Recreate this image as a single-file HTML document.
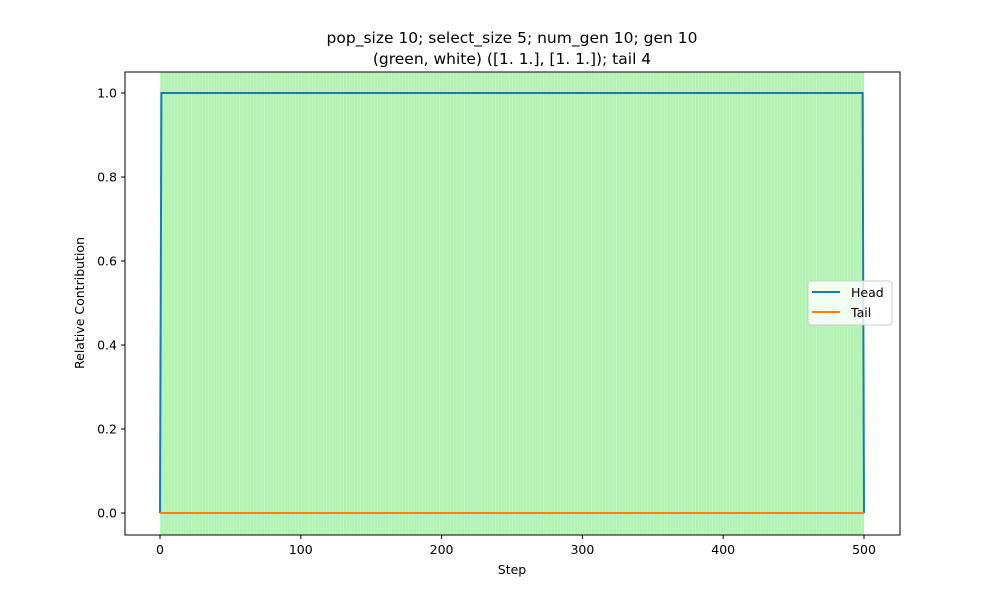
<!DOCTYPE html>
<html><head><meta charset="utf-8"><style>
body{margin:0;background:#fff}
svg{font-family:"DejaVu Sans","Liberation Sans",sans-serif}
</style></head><body>
<svg id="chart" width="1000" height="600">
<rect width="1000" height="600" fill="#fff"/>
<g id="bands"></g>
<g id="lines"></g>
<rect x="125" y="72" width="775" height="463" fill="none" stroke="#000" stroke-width="1"/>
<g id="ticks" font-size="12.5"></g>
<text x="512" y="43" text-anchor="middle" font-size="15.5">pop_size 10; select_size 5; num_gen 10; gen 10</text>
<text x="512" y="64" text-anchor="middle" font-size="15.5">(green, white) ([1. 1.], [1. 1.]); tail 4</text>
<text x="512" y="574" text-anchor="middle" font-size="12.5">Step</text>
<text transform="translate(84,303) rotate(-90)" text-anchor="middle" font-size="12.5">Relative Contribution</text>
<g>
<rect x="808" y="281" width="84" height="44" rx="3" fill="#fff" fill-opacity="0.8" stroke="#ccc"/>
<line x1="812" y1="292" x2="840" y2="292" stroke="#1f77b4" stroke-width="2"/>
<text x="851" y="297" font-size="12.5">Head</text>
<line x1="812" y1="312" x2="840" y2="312" stroke="#ff7f0e" stroke-width="2"/>
<text x="851" y="317" font-size="12.5">Tail</text>
</g>
</svg>
<script>
const steps=[0,1,499,500];
const headValues=[0,1,1,0];
const tailValues=[0,0,0,0];
const xTicks=[0,100,200,300,400,500];
const yTicks=[0.0,0.2,0.4,0.6,0.8,1.0];
const bandStart=0, bandEnd=500;
const NS="http://www.w3.org/2000/svg";
const X=v=>160+v*1.408, Y=v=>513-v*420;
function mk(t,a,p){const e=document.createElementNS(NS,t);for(const k in a)e.setAttribute(k,a[k]);p.appendChild(e);return e;}
const bands=document.getElementById('bands');
const br=mk('rect',{x:X(bandStart),y:72,width:X(bandEnd)-X(bandStart),height:463,fill:'#b3f2b3'},bands);


for(let s=bandStart;s<bandEnd;s+=2){mk('line',{x1:X(s)+0.5,x2:X(s)+0.5,y1:72,y2:535,stroke:'#fff','stroke-opacity':0.25,'stroke-width':0.6},bands);}
const lines=document.getElementById('lines');
const hp=mk('polyline',{points:steps.map((s,i)=>X(s)+','+Y(headValues[i])).join(' '),fill:'none',stroke:'#1f77b4','stroke-width':2},lines);


const tp=mk('polyline',{points:steps.map((s,i)=>X(s)+','+Y(tailValues[i])).join(' '),fill:'none',stroke:'#ff7f0e','stroke-width':2},lines);


const tk=document.getElementById('ticks');
xTicks.forEach(v=>{mk('line',{x1:X(v),x2:X(v),y1:535,y2:539,stroke:'#000'},tk);const t=mk('text',{x:X(v),y:554,'text-anchor':'middle'},tk);t.textContent=v;

});
yTicks.forEach(v=>{mk('line',{x1:121,x2:125,y1:Y(v),y2:Y(v),stroke:'#000'},tk);const t=mk('text',{x:117,y:Y(v)+4.5,'text-anchor':'end'},tk);t.textContent=v.toFixed(1);

});
</script>
</body></html>
